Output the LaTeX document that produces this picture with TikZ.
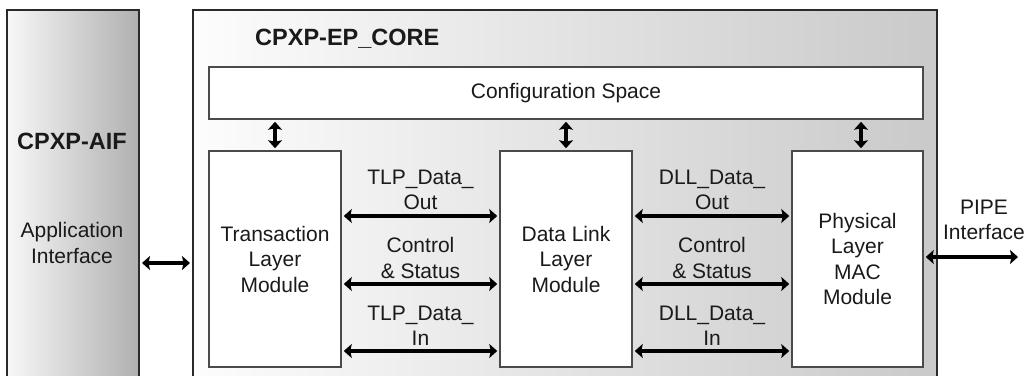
\documentclass[tikz,border=0pt]{standalone}
\usepackage{fontspec}
\setmainfont{Liberation Sans}
\usetikzlibrary{arrows.meta}
\definecolor{txtc}{HTML}{1A1A1A}
\definecolor{bordc}{HTML}{2A2A2A}
\definecolor{inbord}{HTML}{4A4A4A}
\tikzset{
  outerbox/.style={draw=bordc, line width=2pt, inner sep=0pt, shading=axis, shading angle=90},
  modbox/.style={draw=inbord, line width=1.5pt, fill=white, inner sep=0pt},
  txt/.style={text=txtc, align=center, font=\fontsize{21}{25.5}\selectfont, inner sep=0pt},
  bold/.style={text=txtc, align=center, font=\fontsize{23.5}{28}\selectfont\bfseries, inner sep=0pt},
  biarr/.style={draw=black, line width=3.5pt, {Stealth[length=8pt,width=14pt,inset=1.5pt]}-{Stealth[length=8pt,width=14pt,inset=1.5pt]}, shorten <=2pt, shorten >=2pt}
}
\begin{document}
\begin{tikzpicture}[x=1pt,y=-1pt]
\useasboundingbox (0,0) rectangle (1027,375);
\clip (0,0) rectangle (1027,375);
\fill[white] (0,0) rectangle (1027,375);
% outer boxes
\node[outerbox, left color=gray!6, right color=gray!62, minimum width=132pt, minimum height=380pt] (aif) at (73,200) {};
\node[outerbox, left color=gray!2, right color=gray!42, minimum width=744pt, minimum height=380pt] (core) at (565,200) {};
% titles
\node[bold] (aiftitle) at (72,141) {CPXP-AIF};
\node[txt] (aiftxt) at (72,243) {Application\\Interface};
\node[bold, anchor=west] (coretitle) at (255,39) {CPXP-EP\_CORE};
% inner boxes
\node[modbox, minimum width=714pt, minimum height=52pt] (cfg) at (566,93) {};
\node[txt] (cfgtxt) at (cfg.center) {Configuration Space};
\node[modbox, minimum width=132pt, minimum height=216pt] (tlm) at (275,259) {};
\node[modbox, minimum width=132pt, minimum height=216pt] (dll) at (566,259) {};
\node[modbox, minimum width=131pt, minimum height=216pt] (phy) at (857.5,259) {};
\node[txt] (tlmtxt) at (tlm.center) {Transaction\\Layer\\Module};
\node[txt] (dlltxt) at (dll.center) {Data Link\\Layer\\Module};
\node[txt] (phytxt) at (phy.center) {Physical\\Layer\\MAC\\Module};
% vertical arrows
\draw[biarr] (cfg.south -| tlm.center) -- (tlm.north);
\draw[biarr] (cfg.south -| dll.center) -- (dll.north);
\draw[biarr] ([xshift=3.5pt]cfg.south -| phy.center) -- ([xshift=3.5pt]phy.north);
% horizontal arrows TLM-DLL and DLL-PHY
\draw[biarr] (tlm.east |- 0,216) -- (dll.west |- 0,216);
\draw[biarr] (tlm.east |- 0,284) -- (dll.west |- 0,284);
\draw[biarr] (tlm.east |- 0,351) -- (dll.west |- 0,351);
\draw[biarr] (dll.east |- 0,216) -- (phy.west |- 0,216);
\draw[biarr] (dll.east |- 0,284) -- (phy.west |- 0,284);
\draw[biarr] (dll.east |- 0,351) -- (phy.west |- 0,351);
\node[txt] (l1) at (420.5,190) {TLP\_Data\_\\Out};
\node[txt] (l2) at (420.5,258) {Control\\\&~Status};
\node[txt] (l3) at (420.5,326) {TLP\_Data\_\\In};
\node[txt] (r1) at (712,190) {DLL\_Data\_\\Out};
\node[txt] (r2) at (712,258) {Control\\\&~Status};
\node[txt] (r3) at (712,326) {DLL\_Data\_\\In};
% side interfaces
\draw[biarr] ([yshift=-4pt]aif.east |- tlm.center) -- ([yshift=-4pt]core.west |- tlm.center);
\coordinate (pipeend) at (1018,257);
\draw[biarr, shorten >=0pt] (phy.east |- pipeend) -- (pipeend);
\node[txt] (pipetxt) at (984,220) {PIPE\\Interface};
\end{tikzpicture}
\end{document}
